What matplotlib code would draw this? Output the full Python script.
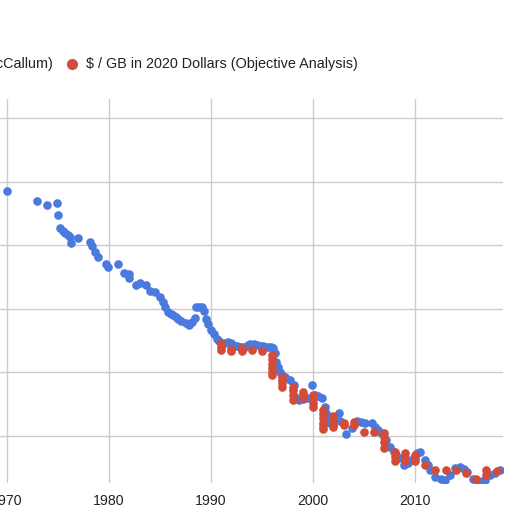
import matplotlib
matplotlib.use("Agg")
import matplotlib.pyplot as plt
from matplotlib.lines import Line2D
import numpy as np

plt.rcParams['font.family'] = ['Liberation Sans', 'DejaVu Sans']

# McCallum series ($/GB, 2020 dollars)
blue_years = [1970.0, 1972.9, 1973.9, 1974.9, 1975.0, 1975.2, 1975.5, 1975.7, 1976.0, 1976.2, 1976.3,
              1977.0, 1978.1, 1978.3, 1978.6, 1978.9, 1979.7, 1979.9, 1980.9, 1981.5, 1982.0,
              1982.0, 1982.6, 1983.0, 1983.6, 1984.0, 1984.5, 1985.0, 1985.3, 1985.5, 1985.8,
              1986.1, 1986.3, 1986.6, 1986.8, 1987.1, 1987.5, 1987.8, 1988.1, 1988.4, 1988.5,
              1988.8, 1989.1, 1989.3, 1989.5, 1989.7, 1990.0, 1990.3, 1990.6, 1990.8, 1991.0,
              1991.4, 1991.7, 1992.0, 1992.2, 1992.5, 1992.8, 1993.0, 1993.3, 1993.6, 1993.8,
              1994.2, 1994.5, 1994.8, 1995.1, 1995.4, 1995.6, 1995.9, 1996.1, 1996.3, 1996.4,
              1996.6, 1996.8, 1997.0, 1997.3, 1997.7, 1998.1, 1998.1, 1998.3, 1998.6, 1999.0,
              1999.4, 1999.9, 2000.2, 2000.5, 2000.9, 2001.2, 2001.3, 2001.5, 2001.7, 2002.0,
              2002.5, 2002.6, 2003.2, 2003.8, 2004.3, 2004.7, 2005.1, 2005.8, 2006.1, 2006.4,
              2006.7, 2007.2, 2007.5, 2007.9, 2008.1, 2008.4, 2008.9, 2009.3, 2009.8, 2010.2,
              2010.5, 2011.0, 2011.3, 2011.5, 2012.0, 2012.5, 2012.9, 2013.4, 2013.9, 2014.4,
              2014.8, 2015.1, 2015.7, 2016.2, 2016.6, 2016.9, 2017.4, 2017.8, 2018.3]
blue_values = [70800, 50100, 42700, 45700, 30200, 18600, 16500, 15800, 14500, 13500, 10700,
               13200, 11200, 9550, 7940, 6460, 5010, 4570, 5130, 3720, 3550,
               3090, 2340, 2570, 2340, 1910, 1860, 1510, 1260, 1070, 890,
               830, 794, 740, 692, 646, 589, 562, 617, 708, 1050,
               1070, 1070, 933, 692, 575, 468, 398, 339, 310, 288,
               295, 302, 285, 269, 260, 251, 255, 251, 265, 282,
               275, 269, 262, 257, 254, 251, 250, 245, 200, 148,
               123, 102, 92, 85, 76, 63, 42, 40, 37, 38,
               39, 63, 44, 42, 39, 29, 23, 19, 16, 15,
               23, 17, 10.7, 13.5, 17, 16.4, 15.8, 16.2, 14.1, 12.5,
               11, 8.7, 6.8, 5.6, 5.0, 4.5, 3.5, 3.7, 4.4, 5.4,
               5.6, 4.2, 3.5, 2.95, 2.3, 2.1, 2.0, 2.45, 3.1, 3.2,
               3.0, 2.75, 2.1, 1.9, 1.95, 2.0, 2.45, 2.6, 2.95]

# Objective Analysis series ($/GB, 2020 dollars)
red_years = [1991, 1991, 1991, 1992, 1992, 1993, 1993, 1994, 1995,
             1996, 1996, 1996, 1996, 1996, 1996, 1997, 1997, 1997, 1997,
             1998, 1998, 1998, 1998, 1999, 1999, 1999, 2000, 2000, 2000, 2000,
             2001, 2001, 2001, 2001, 2001, 2001, 2002, 2002, 2002, 2002,
             2003, 2003, 2004, 2004, 2005, 2006,
             2007, 2007, 2007, 2007, 2008, 2008, 2008, 2009, 2009, 2009,
             2010, 2010, 2010, 2011, 2012, 2013, 2014, 2015, 2016,
             2017, 2017, 2018]
red_values = [288, 251, 224, 234, 219, 240, 214, 224, 214,
              186, 160, 138, 117, 102, 91, 85, 76, 68, 60,
              60, 52, 44, 37, 50, 44, 39, 44, 38, 33, 29,
              26, 22, 19, 16, 14.5, 13, 21, 19, 16, 14,
              16, 15, 15, 16.6, 11.7, 11.7,
              11, 9.5, 8.0, 6.5, 5.6, 4.7, 4.0, 5.4, 4.6, 4.0,
              5.0, 4.5, 4.0, 3.5, 2.95, 2.95, 2.95, 2.6, 2.1,
              2.95, 2.45, 2.8]

x_ticks = [1970, 1980, 1990, 2000, 2010]
y_grid = [1e1, 1e2, 1e3, 1e4, 1e5, 1e6]

blue = '#4a7ade'
red = '#d34b39'

W = 520
fig = plt.figure(figsize=(5.2, 5.2), dpi=100)
px_per_year = 10.2
ax = fig.add_axes([0, 37 / W, 503 / W, 384 / W])
ax.set_xlim(1970 - 7 / px_per_year, 1970 + 496 / px_per_year)
ax.set_yscale('log')
ax.set_ylim(10 ** (1 - 47 / 63.6), 10 ** (6 + 19 / 63.6))

for s in ax.spines.values():
    s.set_visible(False)
ax.set_xticks(x_ticks)
ax.set_xticklabels([str(t) for t in x_ticks])
ax.set_yticks(y_grid)
ax.set_yticklabels([])
ax.yaxis.set_minor_locator(matplotlib.ticker.NullLocator())
ax.tick_params(axis='both', length=0)
ax.tick_params(axis='x', pad=8, labelsize=10.2, labelcolor='#222222')
ax.grid(True, which='major', color='#cccccc', linewidth=1)
ax.set_axisbelow(True)

ax.plot(blue_years, blue_values, linestyle='none', marker='o', markersize=6.2,
        markeredgewidth=0, color=blue, zorder=3)
ax.plot(red_years, red_values, linestyle='none', marker='o', markersize=6.2,
        markeredgewidth=0, color=red, zorder=4)

# legend (partially cut off at left)
ly = 1 - 64 / W
fig.text(53 / W, ly, '$ / GB in 2020 Dollars (John C. McCallum)', ha='right', va='center',
         fontsize=10.35, color='#222222')
fig.add_artist(Line2D([72 / W], [ly], marker='o', markersize=8, markeredgewidth=0,
                      color=red, transform=fig.transFigure))
fig.text(86 / W, ly, '$ / GB in 2020 Dollars (Objective Analysis)', ha='left', va='center',
         fontsize=10.35, color='#222222')

fig.savefig('out.png', dpi=100)
